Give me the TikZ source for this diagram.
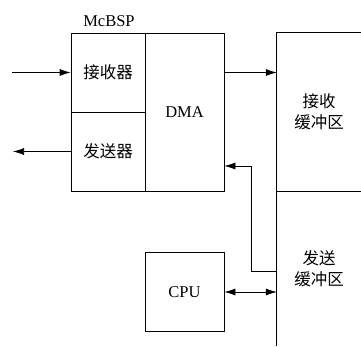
\documentclass[tikz,border=0pt]{standalone}
\usepackage{fontspec}
\setmainfont{Liberation Serif}
\newfontfamily\cjk{Noto Sans CJK SC}
\usetikzlibrary{arrows.meta}
\tikzset{cell/.style = {shape = rectangle, draw, line width = 0.7pt, inner sep = 0pt,
    font = \fontsize{16.5}{20}\selectfont\cjk}}
\tikzset{buf/.style = {shape = rectangle, inner sep = 0pt, align = center,
    font = \fontsize{16.5}{21}\selectfont\cjk}}
\tikzset{arr/.style = {line width = 0.7pt, -{Latex[length = 11pt, width = 7pt]}}}
\tikzset{darr/.style = {line width = 0.7pt, {Latex[length = 11pt, width = 7pt]}-{Latex[length = 11pt, width = 7pt]}}}

\begin{document}
\begin{tikzpicture}[x = 1pt, y = -1pt]
				\useasboundingbox (0, 0) rectangle (361, 347);

				\node[cell, minimum width = 74pt, minimum height = 79pt] (rx) at (108, 72.5) {接收器};
				\node[cell, minimum width = 74pt, minimum height = 79pt] (tx) at (108, 151.5) {发送器};
				\node[cell, minimum width = 79pt, minimum height = 158pt, font = \fontsize{16.5}{20}\selectfont] (dma) at (184.5, 112) {DMA};
				\node[cell, minimum width = 79pt, minimum height = 79pt, font = \fontsize{16.5}{20}\selectfont] (cpu) at (184.5, 292) {CPU};
				\node[font = \fontsize{16.5}{20}\selectfont, anchor = south] (mcbsp) at (109, 30) {McBSP};

				\node[buf, minimum width = 84pt, minimum height = 158pt] (rxbuf) at (319, 112) {接收\\缓冲区};
				\node[buf, minimum width = 84pt, minimum height = 155pt] (txbuf) at (319, 268.5) {发送\\缓冲区};

				\draw[line width = 0.7pt] (rxbuf.north east) -- (rxbuf.north west) -- (rxbuf.south west) -- (rxbuf.south east);
				\draw[line width = 0.7pt] (txbuf.north west) -- (txbuf.south west);

				\coordinate (in) at (12, 72.5);
				\coordinate (out) at (13, 151.5);
				\coordinate (fb) at (277, 271);

				\draw[arr] (in) to (rx.west);
				\draw[arr] (tx.west) to (out);
				\draw[arr] (dma.east |- rx.east) to (rxbuf.west |- rx.east);
				\draw[arr] (fb) -| (251, 166) -- (dma.east |- 0, 166);
				\draw[darr] (cpu.east) to (cpu.east -| txbuf.west);
			\end{tikzpicture}
\end{document}
